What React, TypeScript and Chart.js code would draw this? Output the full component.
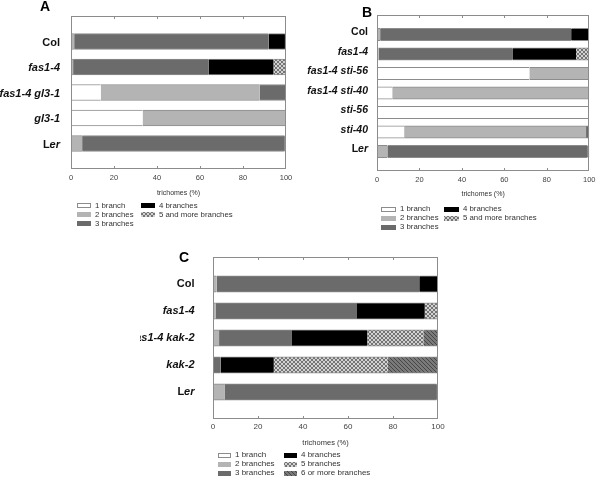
import React, { useEffect, useRef } from 'react';
import { Chart, registerables } from 'chart.js';

Chart.register(...registerables);

// ---------- data ----------
const xTickValues = [0, 20, 40, 60, 80, 100];
const axisTitle = 'trichomes (%)';

const namesAB = ['1 branch', '2 branches', '3 branches', '4 branches', '5 and more branches'];
const namesC = ['1 branch', '2 branches', '3 branches', '4 branches', '5 branches', '6 or more branches'];

const categoriesA = ['Col', 'fas1-4', 'fas1-4 gl3-1', 'gl3-1', 'Ler'];
const a1Branch = [0, 0, 13.8, 33.3, 0];
const a2Branches = [1.5, 1.0, 74.0, 66.7, 5.2];
const a3Branches = [90.4, 63.1, 12.2, 0, 94.2];
const a4Branches = [7.6, 30.1, 0, 0, 0.6];
const a5More = [0.5, 5.8, 0, 0, 0];

const categoriesB = ['Col', 'fas1-4', 'fas1-4 sti-56', 'fas1-4 sti-40', 'sti-56', 'sti-40', 'Ler'];
const b1Branch = [0, 0, 71.8, 7.2, 100, 12.8, 0];
const b2Branches = [1.5, 0.8, 28.2, 92.8, 0, 85.7, 4.9];
const b3Branches = [90.0, 63.0, 0, 0, 0, 1.5, 94.3];
const b4Branches = [8.0, 30.0, 0, 0, 0, 0, 0.8];
const b5More = [0.5, 6.2, 0, 0, 0, 0, 0];

const categoriesC = ['Col', 'fas1-4', 'fas1-4 kak-2', 'kak-2', 'Ler'];
const c1Branch = [0, 0, 0, 0, 0];
const c2Branches = [1.6, 1.3, 2.7, 0, 5.3];
const c3Branches = [90.1, 62.7, 32.4, 3.4, 94.0];
const c4Branches = [8.0, 30.1, 33.5, 23.6, 0.7];
const c5Branches = [0.3, 5.9, 24.9, 50.7, 0];
const c6More = [0, 0, 6.5, 22.3, 0];

// ---------- styles ----------
const FONT = "'Liberation Sans', Arial, Helvetica, sans-serif";
const EDGE = '#8c8c8c';

function makeCrossPattern(): CanvasPattern | string {
  const c = document.createElement('canvas');
  c.width = 4; c.height = 4;
  const g = c.getContext('2d');
  if (!g) return '#a8a8a8';
  g.fillStyle = '#d2d2d2';
  g.fillRect(0, 0, 4, 4);
  g.fillStyle = '#747474';
  for (let i = 0; i < 4; i++) {
    g.fillRect(i, i, 1, 1);
    g.fillRect(3 - i, i, 1, 1);
  }
  return g.createPattern(c, 'repeat') || '#a8a8a8';
}

function makeHatchPattern(): CanvasPattern | string {
  const c = document.createElement('canvas');
  c.width = 4; c.height = 4;
  const g = c.getContext('2d');
  if (!g) return '#666666';
  g.fillStyle = '#7a7a7a';
  g.fillRect(0, 0, 4, 4);
  g.fillStyle = '#454545';
  for (let i = 0; i < 4; i++) g.fillRect(i, i, 1, 1);
  return g.createPattern(c, 'repeat') || '#666666';
}

type Spec = {
  left: number; top: number; w: number; h: number;
  letter: string; letterX: number; letterY: number;
  categories: string[];
  series: number[][];
  names: string[];
  yWidth: number; padRight: number; padTop: number; xHeight: number; padBottom: number;
  barThickness: number;
  labelSize: number; labelGap: number; labelDy: number;
  tickSize: number; tickPadding: number;
  titleY: number; titleSize: number;
  legendCols: number[]; legendTextGap: number; legendRows: number[];
  swatchW: number; swatchH: number; legendSize: number;
};

function labelParts(label: string): { t: string; i: boolean }[] {
  if (label === 'Col') return [{ t: 'Col', i: false }];
  if (label === 'Ler') return [{ t: 'L', i: false }, { t: 'er', i: true }];
  return [{ t: label, i: true }];
}

function buildChart(canvas: HTMLCanvasElement, s: Spec) {
  const fills: (string | CanvasPattern)[] = ['#ffffff', '#b4b4b4', '#6b6b6b', '#000000', makeCrossPattern(), makeHatchPattern()];
  const labels = ['', ...s.categories, ''];
  const datasets = s.series.map((vals, k) => ({
    label: s.names[k],
    data: [null, ...vals, null] as (number | null)[],
    backgroundColor: fills[k],
    borderColor: EDGE,
    borderWidth: { top: 1, bottom: 1, left: 0, right: 0 },
    borderSkipped: false as const,
    barThickness: s.barThickness,
  }));

  const deco = {
    id: 'deco',
    afterDraw(chart: any) {
      const { ctx, chartArea: a, scales } = chart;
      const xs = scales.x, ys = scales.y;
      const L = Math.round(a.left), R = Math.round(a.right), T = Math.round(a.top), B = Math.round(a.bottom);
      ctx.save();
      // frame
      ctx.strokeStyle = EDGE;
      ctx.lineWidth = 1;
      ctx.strokeRect(L + 0.5, T + 0.5, R - L - 1, B - T - 1);
      // inward tick marks
      ctx.beginPath();
      for (const v of xTickValues) {
        if (v === 0 || v === 100) continue;
        const px = Math.round(xs.getPixelForValue(v)) + 0.5;
        ctx.moveTo(px, T); ctx.lineTo(px, T + 3);
        ctx.moveTo(px, B); ctx.lineTo(px, B - 3);
      }
      ctx.stroke();
      // category labels
      ctx.fillStyle = '#111';
      ctx.textBaseline = 'middle';
      ctx.textAlign = 'left';
      s.categories.forEach((cat, i) => {
        const py = ys.getPixelForValue(i + 1) + s.labelDy;
        const parts = labelParts(cat);
        let total = 0;
        for (const p of parts) {
          ctx.font = `${p.i ? 'italic ' : ''}bold ${s.labelSize}px ${FONT}`;
          total += ctx.measureText(p.t).width;
        }
        let x0 = a.left - s.labelGap - total;
        for (const p of parts) {
          ctx.font = `${p.i ? 'italic ' : ''}bold ${s.labelSize}px ${FONT}`;
          ctx.fillText(p.t, x0, py);
          x0 += ctx.measureText(p.t).width;
        }
      });
      // panel letter
      ctx.font = `bold 14px ${FONT}`;
      ctx.textAlign = 'center';
      ctx.fillStyle = '#000';
      ctx.fillText(s.letter, s.letterX, s.letterY);
      // axis title
      ctx.font = `${s.titleSize}px ${FONT}`;
      ctx.fillStyle = '#333';
      ctx.fillText(axisTitle, (a.left + a.right) / 2, s.titleY);
      // legend (column-major, 3 rows)
      ctx.textAlign = 'left';
      ctx.font = `${s.legendSize}px ${FONT}`;
      chart.data.datasets.forEach((ds: any, k: number) => {
        const col = Math.floor(k / 3), row = k % 3;
        const sx = s.legendCols[col];
        const sy = s.legendRows[row];
        ctx.fillStyle = ds.backgroundColor;
        ctx.fillRect(sx, Math.round(sy - s.swatchH / 2), s.swatchW, s.swatchH);
        if (k === 0) {
          ctx.strokeStyle = EDGE;
          ctx.strokeRect(sx + 0.5, Math.round(sy - s.swatchH / 2) + 0.5, s.swatchW - 1, s.swatchH - 1);
        }
        ctx.fillStyle = '#333';
        ctx.fillText(ds.label, sx + s.swatchW + s.legendTextGap, sy);
      });
      ctx.restore();
    },
  };

  return new Chart(canvas, {
    type: 'bar',
    data: { labels, datasets },
    options: {
      indexAxis: 'y',
      responsive: false,
      animation: false,
      devicePixelRatio: 1,
      layout: { padding: { left: 0, right: s.padRight, top: s.padTop, bottom: s.padBottom } },
      plugins: { legend: { display: false }, tooltip: { enabled: false }, title: { display: false } },
      scales: {
        x: {
          type: 'linear',
          stacked: true,
          min: 0,
          max: 100,
          grid: { display: false, drawTicks: false },
          border: { display: false },
          ticks: {
            stepSize: 20,
            autoSkip: false,
            maxRotation: 0,
            padding: s.tickPadding,
            color: '#444',
            font: { family: FONT, size: s.tickSize },
          },
          afterFit: (sc: any) => { sc.height = s.xHeight; },
        },
        y: {
          type: 'category',
          stacked: true,
          offset: false,
          grid: { display: false, drawTicks: false },
          border: { display: false },
          ticks: { display: false },
          afterFit: (sc: any) => { sc.width = s.yWidth; },
        },
      },
    } as any,
    plugins: [deco],
  });
}

const specA: Spec = {
  left: 0, top: 0, w: 300, h: 240,
  letter: 'A', letterX: 45, letterY: 7,
  categories: categoriesA,
  series: [a1Branch, a2Branches, a3Branches, a4Branches, a5More],
  names: namesAB,
  yWidth: 71, padRight: 14, padTop: 16, xHeight: 20, padBottom: 51,
  barThickness: 16,
  labelSize: 11, labelGap: 11, labelDy: 1,
  tickSize: 7.5, tickPadding: 4,
  titleY: 193, titleSize: 7,
  legendCols: [77, 141], legendTextGap: 4, legendRows: [205.5, 214.5, 223.5],
  swatchW: 14, swatchH: 5, legendSize: 7.8,
};

const specB: Spec = {
  left: 300, top: 0, w: 300, h: 240,
  letter: 'B', letterX: 67, letterY: 13,
  categories: categoriesB,
  series: [b1Branch, b2Branches, b3Branches, b4Branches, b5More],
  names: namesAB,
  yWidth: 77, padRight: 7, padTop: 15, xHeight: 20, padBottom: 49,
  barThickness: 12.5,
  labelSize: 10.5, labelGap: 9, labelDy: -2,
  tickSize: 7.5, tickPadding: 4.5,
  titleY: 194, titleSize: 7,
  legendCols: [81, 144], legendTextGap: 4, legendRows: [209, 218, 227],
  swatchW: 15, swatchH: 5, legendSize: 7.8,
};

const specC: Spec = {
  left: 140, top: 240, w: 320, h: 240,
  letter: 'C', letterX: 44, letterY: 18,
  categories: categoriesC,
  series: [c1Branch, c2Branches, c3Branches, c4Branches, c5Branches, c6More],
  names: namesC,
  yWidth: 73, padRight: 22, padTop: 17, xHeight: 20, padBottom: 41,
  barThickness: 16.5,
  labelSize: 11, labelGap: 18.5, labelDy: -0.5,
  tickSize: 8, tickPadding: 2.5,
  titleY: 203, titleSize: 7.5,
  legendCols: [78, 144], legendTextGap: 4, legendRows: [215, 224, 233],
  swatchW: 13, swatchH: 5, legendSize: 8,
};

function Panel({ spec }: { spec: Spec }) {
  const ref = useRef<HTMLCanvasElement>(null);
  useEffect(() => {
    if (!ref.current) return;
    const chart = buildChart(ref.current, spec);
    return () => chart.destroy();
  }, [spec]);
  return (
    <canvas
      ref={ref}
      width={spec.w}
      height={spec.h}
      style={{ position: 'absolute', left: spec.left, top: spec.top, width: spec.w, height: spec.h }}
    />
  );
}

export default function App() {
  return (
    <div style={{ position: 'absolute', left: 0, top: 0, width: 600, height: 480, background: '#fff', overflow: 'hidden' }}>
      <Panel spec={specA} />
      <Panel spec={specB} />
      <Panel spec={specC} />
    </div>
  );
}
